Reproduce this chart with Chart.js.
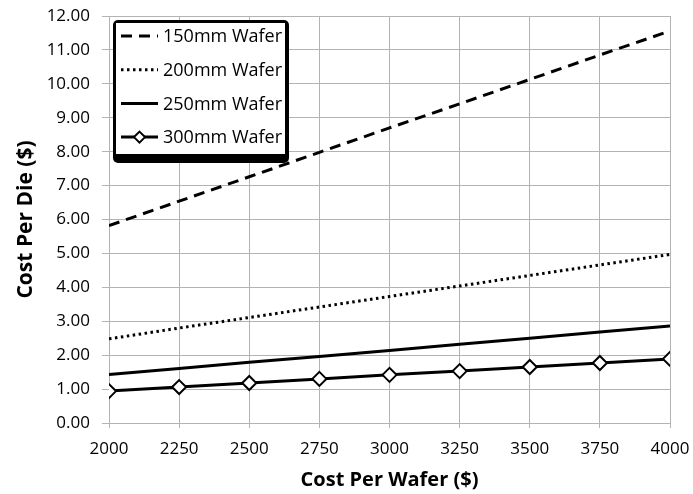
<!DOCTYPE html>
<html>
<head>
<meta charset="utf-8">
<script src="https://cdn.jsdelivr.net/npm/chart.js@4/dist/chart.umd.min.js"></script>
<style>
  body { margin: 0; background: #fff; }
  #wrap { width: 693px; height: 494px; }
</style>
</head>
<body>
<div id="wrap"><canvas id="chart"></canvas></div>
<script>
// cost per wafer ($)
const waferCost = [2000, 2250, 2500, 2750, 3000, 3250, 3500, 3750, 4000];

// cost per die ($)
const wafer150 = [5.82, 6.54, 7.26, 7.98, 8.70, 9.41, 10.13, 10.85, 11.56];
const wafer200 = [2.48, 2.80, 3.11, 3.42, 3.73, 4.04, 4.35, 4.66, 4.97];
const wafer250 = [1.43, 1.61, 1.79, 1.96, 2.14, 2.32, 2.50, 2.68, 2.86];
const wafer300 = [0.94, 1.06, 1.18, 1.30, 1.42, 1.53, 1.65, 1.77, 1.89];

const names = ["150mm Wafer", "200mm Wafer", "250mm Wafer", "300mm Wafer"];

const font = "'Open Sans', 'Liberation Sans', sans-serif";
const gridCol = "#b3b3b3";

function pts(arr) {
  return arr.map((v, i) => ({ x: waferCost[i], y: v }));
}

// legend box drawn inside the plot, top-left
const boxLegend = {
  id: "boxLegend",
  afterDraw(chart) {
    const ctx = chart.ctx;
    const a = chart.chartArea;
    const x = a.left + 4, y = a.top + 4, w = 176, h = 143;
    ctx.save();
    ctx.fillStyle = "#000";
    ctx.beginPath();
    ctx.roundRect(x, y, w, h, 5);
    ctx.fill();
    ctx.fillStyle = "#fff";
    ctx.fillRect(x + 3, y + 3, w - 7, h - 12);
    chart.data.datasets.forEach((ds, i) => {
      const ry = y + 16 + i * 33.7;
      ctx.strokeStyle = "#000";
      ctx.lineWidth = 3;
      ctx.setLineDash(ds.borderDash || []);
      ctx.beginPath();
      ctx.moveTo(x + 8, ry);
      ctx.lineTo(x + 45, ry);
      ctx.stroke();
      ctx.setLineDash([]);
      if (ds.pointRadius > 0) {
        const r = 5.5;
        const cx = x + 26.5;
        ctx.fillStyle = "#fff";
        ctx.lineWidth = 2;
        ctx.beginPath();
        ctx.moveTo(cx, ry - r);
        ctx.lineTo(cx + r, ry);
        ctx.lineTo(cx, ry + r);
        ctx.lineTo(cx - r, ry);
        ctx.closePath();
        ctx.fill();
        ctx.stroke();
      }
      ctx.fillStyle = "#000";
      ctx.font = "18px " + font;
      ctx.textBaseline = "middle";
      ctx.fillText(ds.label, x + 50, ry + 1);
    });
    ctx.restore();
  }
};

new Chart("chart", {
  type: "line",
  data: {
    datasets: [
      { label: names[0], data: pts(wafer150), borderColor: "#000", borderWidth: 3, borderDash: [11, 7], pointRadius: 0 },
      { label: names[1], data: pts(wafer200), borderColor: "#000", borderWidth: 3, borderDash: [2.5, 3.5], pointRadius: 0 },
      { label: names[2], data: pts(wafer250), borderColor: "#000", borderWidth: 3, pointRadius: 0 },
      { label: names[3], data: pts(wafer300), borderColor: "#000", borderWidth: 3,
        pointStyle: "rectRot", pointRadius: 7, pointBorderWidth: 2,
        pointBackgroundColor: "#fff", pointBorderColor: "#000" }
    ]
  },
  options: {
    responsive: true,
    maintainAspectRatio: false,
    animation: false,
    layout: { padding: { top: 16, right: 23, left: 9, bottom: 0 } },
    plugins: {
      legend: { display: false },
      tooltip: { enabled: false }
    },
    scales: {
      x: {
        type: "linear",
        min: 2000,
        max: 4000,
        afterFit(s) {
          s.height = 71;
          s.paddingLeft = 0;
          s.paddingRight = 0;
        },
        ticks: {
          stepSize: 250,
          color: "#000",
          padding: 11,
          font: { family: font, size: 17 },
          maxRotation: 0,
          callback: v => String(v)
        },
        grid: { color: gridCol, lineWidth: 1, tickLength: 5 },
        border: { color: gridCol },
        title: {
          display: true,
          text: "Cost Per Wafer ($)",
          color: "#000",
          font: { family: font, size: 20, weight: "bold" },
          padding: { top: 0, bottom: 2 }
        }
      },
      y: {
        min: 0,
        max: 12,
        afterFit(s) {
          s.width = 100;
          s.paddingTop = 0;
          s.paddingBottom = 0;
        },
        ticks: {
          stepSize: 1,
          color: "#000",
          padding: 12,
          font: { family: font, size: 17 },
          callback: v => v.toFixed(2)
        },
        grid: { color: gridCol, lineWidth: 1, tickLength: 7 },
        border: { color: gridCol },
        title: {
          display: true,
          text: "Cost Per Die ($)",
          color: "#000",
          font: { family: font, size: 21, weight: "bold" },
          padding: { top: 4, bottom: 0 }
        }
      }
    }
  },
  plugins: [boxLegend]
});
</script>
</body>
</html>
